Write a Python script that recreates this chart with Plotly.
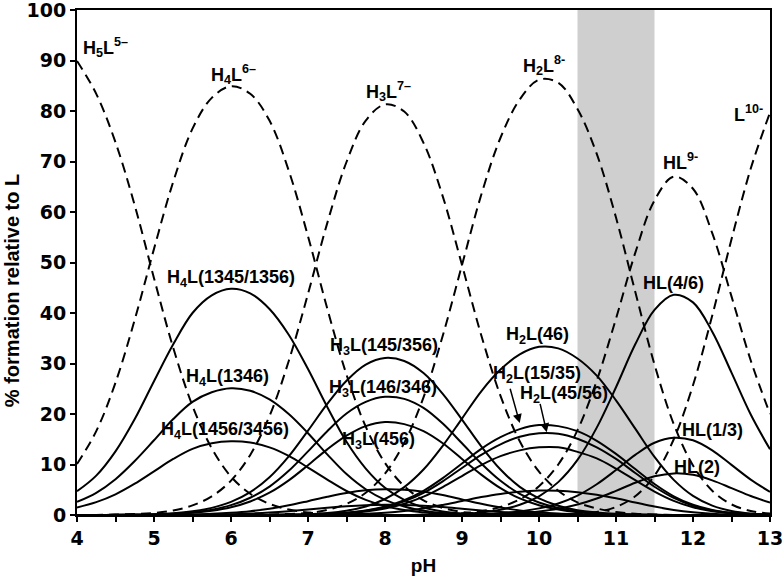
import plotly.graph_objects as go

pH = [4.0, 4.25, 4.5, 4.75, 5.0, 5.25, 5.5, 5.75, 6.0, 6.25, 6.5, 6.75, 7.0, 7.25, 7.5, 7.75,
      8.0, 8.25, 8.5, 8.75, 9.0, 9.25, 9.5, 9.75, 10.0, 10.25, 10.5, 10.75, 11.0, 11.25, 11.5,
      11.75, 12.0, 12.25, 12.5, 12.75, 13.0]

# macro species (dashed)
H5L = [89.9, 83.4, 73.8, 61.3, 46.9, 33.1, 21.6, 13.2, 7.6, 4.2, 2.2, 1.1, 0.5, 0.2, 0.1,
       0, 0, 0, 0, 0, 0, 0, 0, 0, 0, 0, 0, 0, 0, 0, 0, 0, 0, 0, 0, 0, 0]
H4L = [10.1, 16.6, 26.2, 38.7, 52.7, 66.0, 76.5, 82.6, 84.9, 83.4, 78.1, 68.2, 55.2, 40.9, 27.8,
       17.5, 10.3, 5.7, 2.9, 1.4, 0.6, 0.25, 0.1, 0, 0, 0, 0, 0, 0, 0, 0, 0, 0, 0, 0, 0, 0]
H3L = [0, 0, 0.1, 0.2, 0.4, 0.9, 1.9, 3.7, 6.8, 11.9, 19.6, 30.5, 43.8, 57.8, 69.9, 78.1, 81.3,
       79.9, 73.7, 63.1, 49.5, 35.6, 23.6, 14.6, 8.6, 4.8, 2.5, 1.3, 0.6, 0.25, 0.1, 0, 0, 0, 0, 0, 0]
H2L = [0, 0, 0, 0, 0, 0, 0, 0, 0, 0, 0.1, 0.2, 0.4, 1.0, 2.2, 4.4, 8.2, 14.3, 23.3, 35.5, 49.5,
       63.4, 74.7, 82.3, 86.2, 85.6, 80.4, 71.5, 58.9, 44.2, 29.8, 18.0, 9.8, 4.8, 2.1, 0.8, 0.3]
HL = [0, 0, 0, 0, 0, 0, 0, 0, 0, 0, 0, 0, 0, 0, 0, 0, 0, 0, 0.05, 0.13, 0.33, 0.74, 1.6, 3.1,
      5.7, 10.0, 16.8, 26.6, 38.9, 51.9, 62.3, 67.0, 64.6, 55.8, 43.3, 30.6, 20.0]
L = [0, 0, 0, 0, 0, 0, 0, 0, 0, 0, 0, 0, 0, 0, 0, 0, 0, 0, 0, 0, 0, 0, 0, 0, 0.02, 0.07, 0.2,
     0.6, 1.6, 3.7, 7.8, 15.0, 25.7, 39.5, 54.6, 68.6, 79.7]

# micro species (solid)
H4L_1345 = [4.7, 7.8, 12.6, 19.0, 26.5, 33.8, 40.0, 43.5, 44.8, 43.9, 40.8, 35.7, 28.9, 21.4, 14.5,
            9.2, 5.4, 3.0, 1.5, 0.7, 0.3, 0.1, 0.05, 0, 0, 0, 0, 0, 0, 0, 0, 0, 0, 0, 0, 0, 0]
H4L_1346 = [2.6, 4.4, 7.1, 10.7, 14.8, 19.0, 22.4, 24.3, 25.1, 24.6, 22.9, 20.0, 16.2, 12.0, 8.1,
            5.1, 3.0, 1.7, 0.85, 0.4, 0.18, 0.07, 0.03, 0, 0, 0, 0, 0, 0, 0, 0, 0, 0, 0, 0, 0, 0]
H4L_1456 = [1.5, 2.55, 4.1, 6.2, 8.65, 11.1, 13.1, 14.2, 14.6, 14.35, 13.4, 11.7, 9.4, 7.0, 4.75,
            3.0, 1.76, 0.97, 0.5, 0.24, 0.1, 0.04, 0.02, 0, 0, 0, 0, 0, 0, 0, 0, 0, 0, 0, 0, 0, 0]
H3L_145 = [0, 0, 0.04, 0.08, 0.15, 0.34, 0.72, 1.41, 2.59, 4.53, 7.47, 11.6, 16.7, 22.0, 26.6, 29.8,
           31.1, 30.5, 28.1, 24.0, 18.9, 13.6, 9.0, 5.56, 3.28, 1.83, 0.95, 0.5, 0.23, 0.1, 0.04,
           0, 0, 0, 0, 0, 0]
H3L_146 = [0, 0, 0.03, 0.06, 0.11, 0.26, 0.55, 1.06, 1.95, 3.42, 5.63, 8.75, 12.6, 16.6, 20.1, 22.4,
           23.4, 23.0, 21.2, 18.1, 14.2, 10.2, 6.77, 4.19, 2.47, 1.38, 0.72, 0.37, 0.17, 0.07, 0.03,
           0, 0, 0, 0, 0, 0]
H3L_456 = [0, 0, 0.02, 0.05, 0.09, 0.2, 0.43, 0.83, 1.53, 2.68, 4.41, 6.86, 9.86, 13.0, 15.7, 17.6,
           18.4, 18.0, 16.6, 14.2, 11.1, 8.0, 5.31, 3.29, 1.94, 1.08, 0.56, 0.29, 0.14, 0.06, 0.02,
           0, 0, 0, 0, 0, 0]
H3L_m1 = [0, 0, 0.01, 0.01, 0.03, 0.06, 0.12, 0.23, 0.43, 0.74, 1.23, 1.91, 2.74, 3.61, 4.37, 4.88,
          5.1, 5.0, 4.61, 3.94, 3.09, 2.23, 1.48, 0.91, 0.54, 0.3, 0.16, 0.08, 0.04,
          0, 0, 0, 0, 0, 0, 0, 0]
H3L_m2 = [0, 0, 0, 0, 0.01, 0.02, 0.05, 0.09, 0.17, 0.3, 0.49, 0.76, 1.1, 1.45, 1.75, 1.95, 2.04,
          2.0, 1.84, 1.58, 1.24, 0.89, 0.59, 0.37, 0.22, 0.12, 0.06, 0.03,
          0, 0, 0, 0, 0, 0, 0, 0, 0]
H2L_46 = [0, 0, 0, 0, 0, 0, 0, 0, 0, 0, 0.04, 0.08, 0.15, 0.39, 0.85, 1.7, 3.17, 5.52, 9.0, 13.7,
          19.1, 24.5, 28.8, 31.8, 33.3, 33.0, 31.0, 27.6, 22.7, 17.1, 11.5, 6.95, 3.78, 1.85, 0.81,
          0.31, 0.12]
H2L_15 = [0, 0, 0, 0, 0, 0, 0, 0, 0, 0, 0.02, 0.04, 0.08, 0.21, 0.45, 0.91, 1.69, 2.95, 4.8, 7.31,
          10.2, 13.1, 15.4, 17.0, 17.8, 17.6, 16.6, 14.7, 12.1, 9.1, 6.14, 3.71, 2.02, 0.99, 0.43,
          0.16, 0.06]
H2L_45 = [0, 0, 0, 0, 0, 0, 0, 0, 0, 0, 0.02, 0.04, 0.08, 0.19, 0.41, 0.83, 1.54, 2.69, 4.38, 6.67,
          9.31, 11.9, 14.0, 15.5, 16.2, 16.1, 15.1, 13.4, 11.1, 8.31, 5.6, 3.38, 1.84, 0.9, 0.39,
          0.15, 0.06]
H2L_m1 = [0, 0, 0, 0, 0, 0, 0, 0, 0, 0, 0.02, 0.03, 0.06, 0.16, 0.34, 0.69, 1.28, 2.23, 3.63, 5.54,
          7.72, 9.89, 11.65, 12.8, 13.4, 13.4, 12.5, 11.2, 9.19, 6.9, 4.65, 2.81, 1.53, 0.75, 0.33,
          0.12, 0.05]
H2L_m2 = [0, 0, 0, 0, 0, 0, 0, 0, 0, 0, 0, 0, 0.02, 0.06, 0.12, 0.25, 0.46, 0.8, 1.3, 1.99, 2.77,
          3.55, 4.18, 4.61, 4.83, 4.79, 4.5, 4.0, 3.3, 2.48, 1.67, 1.01, 0.55, 0.27, 0.12, 0.04, 0.02]
HL_46 = [0, 0, 0, 0, 0, 0, 0, 0, 0, 0, 0, 0, 0, 0, 0, 0, 0, 0, 0.03, 0.08, 0.21, 0.48, 1.04, 2.02,
         3.71, 6.51, 10.9, 17.3, 25.3, 33.8, 40.6, 43.6, 42.1, 36.3, 28.2, 19.9, 13.0]
HL_13 = [0, 0, 0, 0, 0, 0, 0, 0, 0, 0, 0, 0, 0, 0, 0, 0, 0, 0, 0.01, 0.03, 0.08, 0.17, 0.37, 0.71,
         1.31, 2.29, 3.85, 6.09, 8.91, 11.9, 14.3, 15.3, 14.8, 12.8, 9.92, 7.01, 4.58]
HL_2 = [0, 0, 0, 0, 0, 0, 0, 0, 0, 0, 0, 0, 0, 0, 0, 0, 0, 0, 0.01, 0.02, 0.04, 0.09, 0.2, 0.38,
        0.7, 1.23, 2.07, 3.27, 4.78, 6.38, 7.66, 8.24, 7.95, 6.86, 5.33, 3.76, 2.46]

macro = [H5L, H4L, H3L, H2L, HL, L]
micro = [H4L_1345, H4L_1346, H4L_1456, H3L_145, H3L_146, H3L_456, H3L_m1, H3L_m2,
         H2L_46, H2L_15, H2L_45, H2L_m1, H2L_m2, HL_46, HL_13, HL_2]

band = [10.5, 11.5]

# labels: (text, pH, value, xanchor)
labels = [
    ("H<sub>5</sub>L<sup>5–</sup>", 4.05, 92.5, "left"),
    ("H<sub>4</sub>L<sup>6–</sup>", 6.03, 87.3, "center"),
    ("H<sub>3</sub>L<sup>7–</sup>", 8.04, 83.8, "center"),
    ("H<sub>2</sub>L<sup>8-</sup>", 10.06, 89.0, "center"),
    ("HL<sup>9-</sup>", 11.84, 70.0, "center"),
    ("L<sup>10-</sup>", 12.72, 79.6, "center"),
    ("H<sub>4</sub>L(1345/1356)", 6.0, 46.9, "center"),
    ("H<sub>4</sub>L(1346)", 5.96, 27.3, "center"),
    ("H<sub>4</sub>L(1456/3456)", 5.92, 16.8, "center"),
    ("H<sub>3</sub>L(145/356)", 7.99, 33.3, "center"),
    ("H<sub>3</sub>L(146/346)", 7.97, 25.1, "center"),
    ("H<sub>3</sub>L(456)", 7.92, 14.8, "center"),
    ("H<sub>2</sub>L(46)", 9.98, 35.6, "center"),
    ("H<sub>2</sub>L(15/35)", 9.98, 27.8, "center"),
    ("H<sub>2</sub>L(45/56)", 10.33, 23.9, "center"),
    ("HL(4/6)", 11.75, 45.9, "center"),
    ("HL(1/3)", 12.25, 16.8, "center"),
    ("HL(2)", 12.05, 9.5, "center"),
]

# arrows: (tail pH, tail value, head pH, head value)
arrows = [
    (9.62, 25.3, 9.75, 18.2),
    (10.01, 22.3, 10.10, 16.4),
]

fig = go.Figure()

fig.add_shape(type="rect", xref="x", yref="y", x0=band[0], x1=band[1], y0=0, y1=100,
              fillcolor="#cfcfcf", line=dict(width=0), layer="below")

for ys in micro:
    fig.add_trace(go.Scatter(x=pH, y=ys, mode="lines", line=dict(color="black", width=2,
                  shape="spline", smoothing=1), showlegend=False, hoverinfo="skip"))
for ys in macro:
    fig.add_trace(go.Scatter(x=pH, y=ys, mode="lines", line=dict(color="black", width=2,
                  dash="10px,6px", shape="spline", smoothing=1), showlegend=False, hoverinfo="skip"))

lab_font = dict(family="Liberation Sans, Arial, sans-serif", size=18, color="black", weight="bold")
for text, x, y, xa in labels:
    fig.add_annotation(x=x, y=y, xref="x", yref="y", text=text, showarrow=False,
                       xanchor=xa, yanchor="middle", font=lab_font)

for tx, ty, hx, hy in arrows:
    fig.add_annotation(x=hx, y=hy, ax=tx, ay=ty, xref="x", yref="y", axref="x", ayref="y",
                       text="", showarrow=True, arrowhead=2, arrowsize=1.2, arrowwidth=1.5,
                       arrowcolor="black")

fig.add_annotation(x=-0.094, y=0.445, xref="paper", yref="paper", text="% formation relative to L",
                   textangle=-90, showarrow=False, xanchor="center", yanchor="middle",
                   font=dict(family="Liberation Sans, Arial, sans-serif", size=20, color="black",
                             weight="bold"))

tick_font = dict(family="DejaVu Sans", size=19, color="black", weight="bold")
fig.update_xaxes(range=[4, 13], dtick=1, tick0=4, ticks="outside", ticklen=5, tickwidth=2,
                 tickcolor="black", showline=True, linewidth=2, linecolor="black", mirror=True,
                 showgrid=False, zeroline=False, tickfont=tick_font, automargin=False,
                 ticklabeloverflow="allow",
                 minor=dict(dtick=0.5, ticks="outside", ticklen=5, tickwidth=2, tickcolor="black"),
                 title=dict(text="pH", standoff=11,
                            font=dict(family="Liberation Sans, Arial, sans-serif", size=19,
                                      color="black", weight="bold")))
fig.update_yaxes(range=[0, 100], dtick=10, ticks="outside", ticklen=5, tickwidth=2,
                 tickcolor="black", showline=True, linewidth=2, linecolor="black", mirror=True,
                 showgrid=False, zeroline=False, tickfont=tick_font, automargin=False,
                 ticklabeloverflow="allow")

fig.update_layout(width=783, height=581, margin=dict(l=77, r=13, t=10, b=66, autoexpand=False),
                  plot_bgcolor="white", paper_bgcolor="white")

fig.write_html("out.html", config={"displayModeBar": False},
               post_script="document.body.style.margin='0px';")
